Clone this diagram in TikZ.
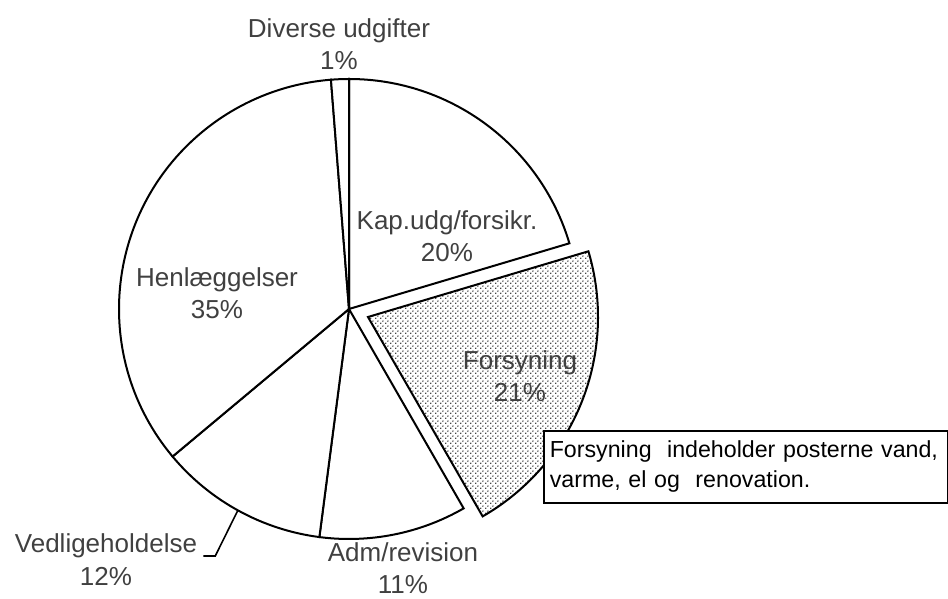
\documentclass[tikz,border=0pt]{standalone}
\usepackage{fontspec}
\setmainfont{Liberation Sans}
\usetikzlibrary{patterns,positioning,calc}
\definecolor{lblgray}{RGB}{64,64,64}
\pgfdeclarepatternformonly{fsdots}{\pgfpointorigin}{\pgfqpoint{5pt}{5pt}}{\pgfqpoint{5pt}{5pt}}{%
  \pgfpathcircle{\pgfqpoint{1pt}{1pt}}{0.85pt}%
  \pgfpathcircle{\pgfqpoint{3.5pt}{3.5pt}}{0.85pt}%
  \pgfusepath{fill}}

\begin{document}
\begin{tikzpicture}[x=1pt,y=1pt,
  lbl/.style={text=lblgray,font=\fontsize{26}{32}\selectfont,align=center,inner sep=0pt},
  slice/.style={draw=black,line width=2pt,fill=white,line join=miter},
  note/.style={draw=black,line width=1.6pt,fill=white,align=left,text=black,
               font=\fontsize{23.2}{30}\selectfont,text width=392pt,inner xsep=6pt,
               minimum height=72pt},
  leader/.style={draw=black,line width=1.6pt}
]
  \useasboundingbox (0,0) rectangle (948,599);
  \coordinate (c) at (349,290);
  \coordinate (cx) at (368,282);

  % Slices
  \draw[slice] (c) -- ++(90:230) arc (90:16.6:230) -- cycle;
  \draw[slice,pattern=fsdots] (cx) -- ++(16.6:230) arc (16.6:-60.1:230) -- cycle;
  \draw[slice] (c) -- ++(-60.1:230) arc (-60.1:-97.4:230) -- cycle;
  \draw[slice] (c) -- ++(-97.4:230) arc (-97.4:-140.1:230) -- cycle;
  \draw[slice] (c) -- ++(-140.1:230) arc (-140.1:-265.5:230) -- cycle;
  \draw[slice] (c) -- ++(94.5:230) arc (94.5:90:230) -- cycle;

  % Labels
  \node[lbl] (div) at (339,555) {Diverse udgifter\\1\%};
  \node[lbl] (kap) at (447,363) {Kap.udg/forsikr.\\20\%};
  \node[lbl] (fors) at (520,223) {Forsyning\\21\%};
  \node[lbl] (henl) at (217,306) {Henlæggelser\\35\%};
  \node[lbl] (adm) at (403,31) {Adm/revision\\11\%};
  \node[lbl] (ved) at (106,53) {Vedligeholdelse};
  \node[lbl,below=9pt of ved] (vedp) {12\%};

  % Leader for Vedligeholdelse
  \coordinate (vtip) at ($(c)+(-118.9:230)$);
  \draw[leader] ($(ved.east)+(6,-10)$) -- ++(12,0) -- (vtip);

  % Note
  \node[note,anchor=north west] (nt) at (543,169)
    {Forsyning~ indeholder posterne vand,\\varme, el og~ renovation.};
\end{tikzpicture}
\end{document}
